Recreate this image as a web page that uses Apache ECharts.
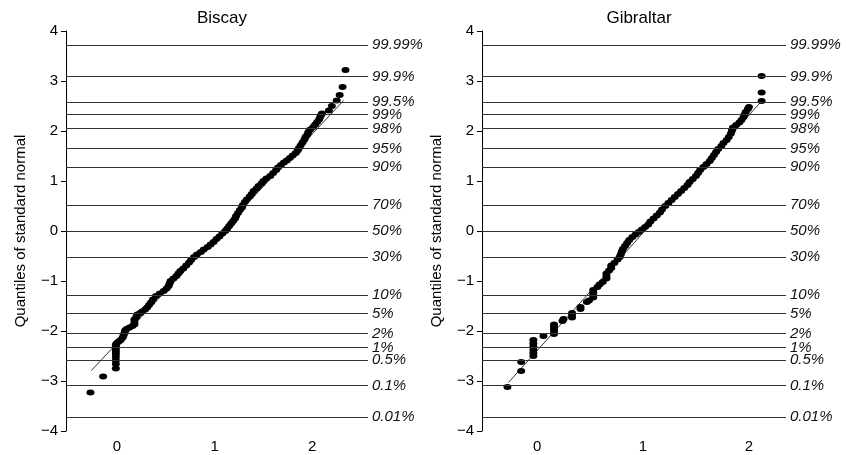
<!DOCTYPE html>
<html>
<head>
<meta charset="utf-8">
<title>Normal probability plots</title>
<script src="https://cdn.jsdelivr.net/npm/echarts@6.0.0/dist/echarts.min.js"></script>
<style>
  html, body { margin: 0; padding: 0; background: #fff; }
  #chart { width: 846px; height: 455px; }
</style>
</head>
<body>
<div id="chart"></div>
<script>
// probability levels drawn as horizontal reference lines
var probLabels = ['99.99%', '99.9%', '99.5%', '99%', '98%', '95%', '90%', '70%', '50%',
  '30%', '10%', '5%', '2%', '1%', '0.5%', '0.1%', '0.01%'];
var probQuantiles = [3.719, 3.090, 2.576, 2.326, 2.054, 1.645, 1.282, 0.524, 0,
  -0.524, -1.282, -1.645, -2.054, -2.326, -2.576, -3.090, -3.719];

var panelTitles = ['Biscay', 'Gibraltar'];
var yTitle = 'Quantiles of standard normal';
var xTickValues = [0, 1, 2];

// [sample value, normal quantile]
var biscayPoints = [
  [-0.27, -3.23], [-0.14, -2.91],
  [-0.01, -2.75], [-0.01, -2.66], [-0.01, -2.59], [-0.01, -2.52], [-0.01, -2.46],
  [-0.01, -2.41], [-0.01, -2.36], [-0.01, -2.31], [-0.01, -2.27],
  [0.0, -2.24], [0.02, -2.21], [0.04, -2.18], [0.06, -2.13], [0.07, -2.08], [0.08, -2.03],
  [0.085, -1.99], [0.1, -1.96], [0.13, -1.93], [0.16, -1.9], [0.18, -1.87], [0.18, -1.82],
  [0.18, -1.77], [0.2, -1.72], [0.21, -1.67], [0.24, -1.64], [0.26, -1.61], [0.29, -1.57],
  [0.31, -1.53], [0.33, -1.48], [0.35, -1.43], [0.37, -1.37], [0.4, -1.3], [0.44, -1.25],
  [0.48, -1.2], [0.51, -1.15], [0.53, -1.1], [0.54, -1.05], [0.55, -1.0], [0.58, -0.95],
  [0.61, -0.9], [0.63, -0.85], [0.65, -0.8], [0.68, -0.75], [0.71, -0.69], [0.74, -0.63],
  [0.76, -0.58], [0.79, -0.52], [0.82, -0.47], [0.86, -0.42], [0.89, -0.37], [0.93, -0.32],
  [0.96, -0.27], [0.99, -0.22], [1.02, -0.16], [1.05, -0.11], [1.08, -0.05], [1.11, 0.0],
  [1.13, 0.05], [1.15, 0.1], [1.17, 0.15], [1.19, 0.2], [1.21, 0.25], [1.22, 0.3],
  [1.24, 0.36], [1.26, 0.42], [1.28, 0.47], [1.29, 0.52], [1.31, 0.58], [1.33, 0.63],
  [1.36, 0.69], [1.38, 0.74], [1.4, 0.8], [1.43, 0.85], [1.45, 0.9], [1.48, 0.95],
  [1.5, 1.0], [1.53, 1.05], [1.57, 1.1], [1.6, 1.16], [1.63, 1.22], [1.65, 1.27],
  [1.68, 1.32], [1.71, 1.37], [1.74, 1.41], [1.77, 1.46], [1.8, 1.51], [1.83, 1.56],
  [1.85, 1.61], [1.86, 1.65], [1.88, 1.71], [1.9, 1.77], [1.92, 1.83], [1.93, 1.88],
  [1.95, 1.93], [1.96, 1.98], [1.98, 2.03], [2.01, 2.08], [2.03, 2.13], [2.05, 2.18],
  [2.07, 2.23], [2.08, 2.28], [2.09, 2.32], [2.1, 2.35],
  [2.17, 2.41], [2.2, 2.5], [2.25, 2.61], [2.28, 2.72], [2.31, 2.88], [2.34, 3.22]
];
var gibraltarPoints = [
  [-0.28, -3.12], [-0.15, -2.8], [-0.15, -2.62],
  [-0.035, -2.5], [-0.035, -2.44], [-0.035, -2.38], [-0.035, -2.31], [-0.035, -2.25], [-0.035, -2.18],
  [0.06, -2.1], [0.16, -2.06], [0.16, -2.01], [0.16, -1.96], [0.16, -1.91], [0.16, -1.87],
  [0.24, -1.8], [0.25, -1.76], [0.33, -1.73], [0.33, -1.68], [0.33, -1.64], [0.41, -1.56],
  [0.41, -1.52], [0.47, -1.42], [0.49, -1.39], [0.53, -1.33], [0.53, -1.28], [0.53, -1.23],
  [0.53, -1.18], [0.57, -1.12], [0.59, -1.07], [0.62, -1.02], [0.655, -0.95], [0.655, -0.9],
  [0.655, -0.85], [0.68, -0.79], [0.7, -0.74], [0.7, -0.69], [0.73, -0.64], [0.76, -0.57],
  [0.78, -0.52], [0.79, -0.47], [0.8, -0.41], [0.81, -0.36], [0.83, -0.3], [0.85, -0.24],
  [0.87, -0.18], [0.9, -0.12], [0.93, -0.07], [0.96, -0.02], [0.99, 0.03], [1.02, 0.08],
  [1.05, 0.13], [1.07, 0.19], [1.1, 0.25], [1.13, 0.31], [1.16, 0.37], [1.18, 0.43],
  [1.21, 0.5], [1.24, 0.56], [1.27, 0.62], [1.3, 0.68], [1.33, 0.74], [1.36, 0.8],
  [1.39, 0.86], [1.42, 0.92], [1.44, 0.98], [1.47, 1.04], [1.5, 1.1], [1.52, 1.16],
  [1.54, 1.22], [1.57, 1.28], [1.6, 1.34], [1.63, 1.4], [1.65, 1.46], [1.67, 1.52],
  [1.69, 1.58], [1.71, 1.64], [1.74, 1.7], [1.76, 1.76], [1.79, 1.82], [1.81, 1.88],
  [1.83, 1.95], [1.84, 2.01], [1.85, 2.07], [1.88, 2.12], [1.91, 2.17], [1.93, 2.22],
  [1.95, 2.28], [1.96, 2.33], [1.97, 2.38], [1.99, 2.44], [2.0, 2.48],
  [2.12, 2.6], [2.12, 2.77], [2.12, 3.1]
];
// end points of the fitted straight lines
var biscayFit = [[-0.26, -2.79], [2.32, 2.61]];
var gibraltarFit = [[-0.27, -3.03], [2.12, 2.6]];

var FONT = '"Liberation Sans", Arial, sans-serif';
var chart = echarts.init(document.getElementById('chart'));

function minusSign(v) {
  return String(v).replace('-', '\u2212');
}

function makeXAxis(idx, min, max) {
  return {
    type: 'value', gridIndex: idx, min: min, max: max,
    axisLine: { show: false }, axisTick: { show: false }, splitLine: { show: false },
    axisLabel: {
      customValues: xTickValues, margin: 8,
      color: '#000', fontFamily: FONT, fontSize: 15,
      formatter: minusSign
    }
  };
}

function makeYAxis(idx) {
  return {
    type: 'value', gridIndex: idx, min: -4, max: 4, interval: 1,
    name: yTitle, nameLocation: 'middle', nameGap: 38,
    nameTextStyle: { color: '#000', fontFamily: FONT, fontSize: 15 },
    axisLine: { show: true, onZero: false, lineStyle: { color: '#000', width: 1 } },
    axisTick: { show: true, length: 5, lineStyle: { color: '#000' } },
    splitLine: { show: false },
    axisLabel: { color: '#000', fontFamily: FONT, fontSize: 15, margin: 8, formatter: minusSign }
  };
}

function probLines() {
  return {
    silent: true,
    symbol: 'none',
    animation: false,
    lineStyle: { type: 'solid', color: '#333', width: 1 },
    label: {
      show: true, position: 'end', distance: 4, formatter: '{b}',
      color: '#111', fontFamily: FONT, fontSize: 15, fontStyle: 'italic'
    },
    data: probQuantiles.map(function (q, i) {
      return { yAxis: q, name: probLabels[i] };
    })
  };
}

function makePanel(idx, points, fit) {
  return [
    {
      type: 'scatter', xAxisIndex: idx, yAxisIndex: idx,
      data: points, symbol: 'circle', symbolSize: [8, 6],
      itemStyle: { color: '#000', opacity: 1 },
      markLine: probLines(),
      z: 3
    },
    {
      type: 'line', xAxisIndex: idx, yAxisIndex: idx,
      data: fit, symbol: 'none',
      lineStyle: { color: '#000', width: 0.8 },
      z: 4
    }
  ];
}

var option = {
  backgroundColor: '#fff',
  animation: false,
  title: [
    { text: panelTitles[0], left: 217, top: 5, textAlign: 'center',
      textStyle: { color: '#000', fontFamily: FONT, fontSize: 17, fontWeight: 'normal' } },
    { text: panelTitles[1], left: 634, top: 5, textAlign: 'center',
      textStyle: { color: '#000', fontFamily: FONT, fontSize: 17, fontWeight: 'normal' } }
  ],
  grid: [
    { left: 66, top: 31, width: 302, height: 400 },
    { left: 482, top: 31, width: 304, height: 400 }
  ],
  xAxis: [makeXAxis(0, -0.52, 2.57), makeXAxis(1, -0.52, 2.35)],
  yAxis: [makeYAxis(0), makeYAxis(1)],
  series: makePanel(0, biscayPoints, biscayFit).concat(makePanel(1, gibraltarPoints, gibraltarFit))
};

chart.setOption(option);
</script>
</body>
</html>
